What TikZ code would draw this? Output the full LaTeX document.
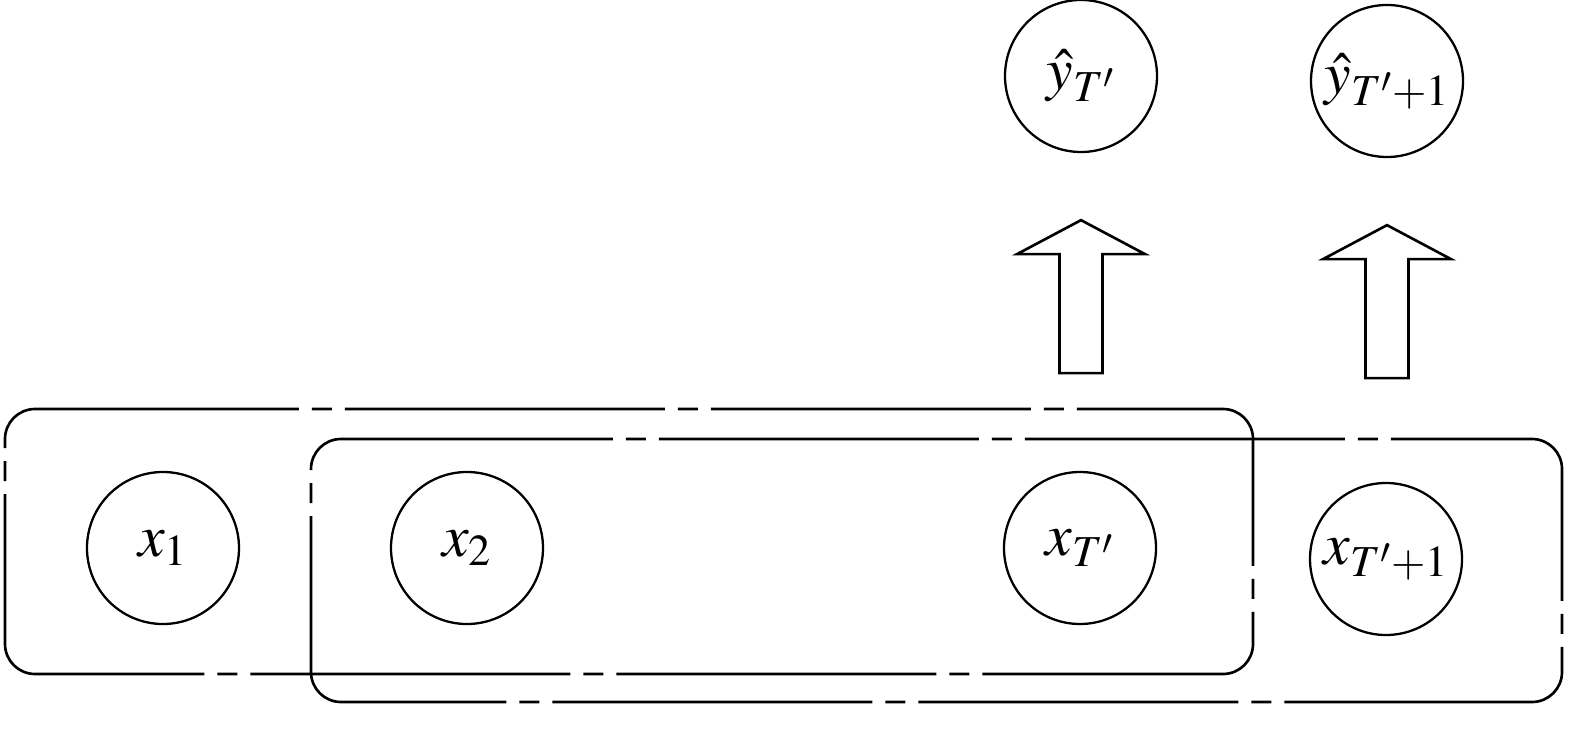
\documentclass[tikz,border=0pt]{standalone}
\usepackage{mathptmx}

\begin{document}
\begin{tikzpicture}[
        every node/.style={font=\fontsize{34}{40}\selectfont},
        unit/.style={draw,circle,line width=1.3pt,minimum size=3.04cm,inner sep=0pt},
        window/.style={line width=1.5pt,rounded corners=0.6cm,
                dash pattern=on 6.4cm off 0.26cm on 0.4cm off 0.26cm},
        blockarrow/.style={line width=1.5pt}]
                \useasboundingbox (0,0) rectangle (31.7,14.74);
                % inputs
                \node[unit] (x1) at (3.26,3.78) {$x_1$};
                \node[unit] (x2) at (9.34,3.78) {$x_2$};
                \node[unit] (xT) at (21.6,3.78) {$x_{T'}$};
                \node[unit] (xTn) at (27.72,3.56) {$x_{T'+1}$};
                % outputs
                \node[unit] (yT) at (21.62,13.22) {$\hat{y}_{T'}$};
                \node[unit] (yTn) at (27.74,13.12) {$\hat{y}_{T'+1}$};
                % sliding windows
                \draw[window,dash phase=3.4cm] (0.1,1.26) rectangle (25.06,6.56);
                \draw[window,dash phase=3.28cm] (6.22,0.70) rectangle (31.24,5.96);
                % prediction arrows
                \foreach \n in {yT,yTn}
                        \draw[blockarrow] ([yshift=-1.34cm]\n.south) -- ++(1.28,-0.68) -- ++(-0.85,0)
                                -- ++(0,-2.38) -- ++(-0.86,0) -- ++(0,2.38) -- ++(-0.85,0) -- cycle;
\end{tikzpicture}
\end{document}
